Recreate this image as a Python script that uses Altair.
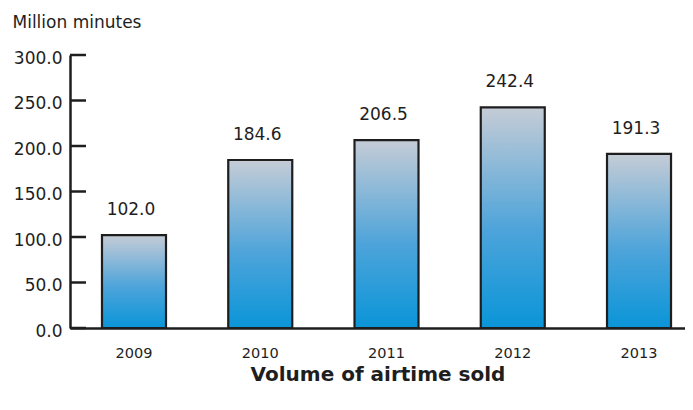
import altair as alt
import pandas as pd

years = ["2009", "2010", "2011", "2012", "2013"]
values = [102.0, 184.6, 206.5, 242.4, 191.3]
tick_values = [0, 50, 100, 150, 200, 250, 300]

df = pd.DataFrame({"year": years, "value": values})
ticks_df = pd.DataFrame({"t": tick_values})

FONT = "DejaVu Sans"
INK = "#1e1e1e"

x_enc = alt.X("year:N", sort=years,
              scale=alt.Scale(paddingInner=0.493, paddingOuter=0.182, align=0.696),
              axis=alt.Axis(title="Volume of airtime sold", labelAngle=0, ticks=False,
                            domainColor=INK, domainWidth=2.5,
                            labelFontSize=14.5, labelPadding=18, labelColor=INK,
                            labelFont=FONT, titleFont=FONT, titleFontSize=20,
                            titleFontWeight="bold", titleColor=INK, titlePadding=5))
y_scale = alt.Scale(domain=[0, 300], nice=False)

bars = alt.Chart(df).mark_bar(
    stroke=INK, strokeWidth=2.2,
    color=alt.Gradient(gradient="linear", x1=0, x2=0, y1=0, y2=1,
                       stops=[alt.GradientStop(offset=0, color="#c5ccd6"),
                              alt.GradientStop(offset=0.55, color="#4ea4da"),
                              alt.GradientStop(offset=1, color="#0a95d8")])
).encode(
    x=x_enc,
    y=alt.Y("value:Q", scale=y_scale,
            axis=alt.Axis(values=tick_values, format=".1f", tickSize=0, grid=False,
                          domainColor=INK, domainWidth=2.5,
                          labelFontSize=17, labelPadding=8, labelColor=INK, labelFont=FONT,
                          labelOffset=3,
                          title="Million minutes", titleAngle=0, titleAlign="left",
                          titleBaseline="middle", titleX=-58, titleY=-33,
                          titleFont=FONT, titleFontSize=17, titleFontWeight="normal",
                          titleColor=INK))
)

labels = alt.Chart(df).mark_text(
    baseline="middle", dy=-25, dx=-3, fontSize=17, font=FONT, color=INK
).encode(
    x=alt.X("year:N", sort=years),
    y=alt.Y("value:Q", scale=y_scale),
    text=alt.Text("value:Q", format=".1f")
)

ticks = alt.Chart(ticks_df).mark_rule(color=INK, strokeWidth=2.5).encode(
    y=alt.Y("t:Q", scale=y_scale),
    x=alt.value(0),
    x2=alt.value(16)
)

chart = alt.layer(bars, labels, ticks).properties(
    width=615, height=273,
    autosize=alt.AutoSizeParams(type="none"),
    padding={"left": 62, "top": 47, "right": 0, "bottom": 74}
).configure_view(stroke=None)

chart.save("out.html", embed_options={"renderer": "svg", "actions": False})
